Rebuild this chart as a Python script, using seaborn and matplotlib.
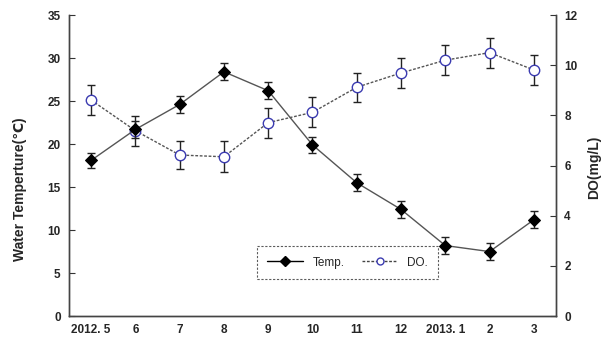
import matplotlib
matplotlib.use("Agg")
import matplotlib.pyplot as plt
from matplotlib.lines import Line2D
import numpy as np
import pandas as pd
import seaborn as sns

MONTHS = ["2012. 5", "6", "7", "8", "9", "10", "11", "12", "2013. 1", "2", "3"]
TEMP = [18.1, 21.7, 24.6, 28.4, 26.2, 19.9, 15.5, 12.4, 8.2, 7.5, 11.2]
TEMP_ERR = [0.9, 1.0, 1.0, 1.0, 1.0, 0.9, 1.0, 1.0, 0.95, 1.0, 1.0]
DO = [8.61, 7.39, 6.42, 6.35, 7.71, 8.12, 9.12, 9.69, 10.2, 10.5, 9.81]
DO_ERR = [0.6, 0.6, 0.57, 0.62, 0.6, 0.6, 0.58, 0.6, 0.6, 0.6, 0.6]

df = pd.DataFrame({"pos": np.arange(len(MONTHS)), "temp": TEMP, "temp_err": TEMP_ERR,
                   "do": DO, "do_err": DO_ERR})

sns.set_theme(style="white")
plt.rcParams["font.family"] = ["Liberation Sans", "DejaVu Sans"]
plt.rcParams["font.weight"] = "bold"

fig = plt.figure(figsize=(6.05, 3.41), dpi=100)
ax = fig.add_axes([0.114, 0.073, 0.805, 0.883])
ax2 = ax.twinx()

# DO series (right axis)
ax2.errorbar(df["pos"], df["do"], yerr=df["do_err"], fmt="none", ecolor="#222222",
             elinewidth=1.0, capsize=3, capthick=1.0, zorder=2)
sns.lineplot(data=df, x="pos", y="do", ax=ax2, color="#555555", linestyle=(0, (2, 1.2)),
             linewidth=1.0, marker="o", markersize=7.5, markerfacecolor="white",
             markeredgecolor="#3b3bb0", markeredgewidth=1.0, zorder=3)

# temperature series (left axis)
ax.errorbar(df["pos"], df["temp"], yerr=df["temp_err"], fmt="none", ecolor="#222222",
            elinewidth=1.0, capsize=3, capthick=1.0, zorder=2)
sns.lineplot(data=df, x="pos", y="temp", ax=ax, color="#555555", linewidth=1.0,
             marker="D", markersize=6.5, markerfacecolor="black", markeredgecolor="black",
             zorder=3)
ax.set_zorder(ax2.get_zorder() + 1)
ax.patch.set_visible(False)

ax.set_xlim(-0.5, len(MONTHS) - 0.5)
ax.set_ylim(0, 35)
ax2.set_ylim(0, 12)
ax.set_yticks(range(0, 36, 5))
ax2.set_yticks(range(0, 13, 2))

ax.set_xticks(df["pos"])
ax.set_xticklabels(MONTHS)
ax.set_xticks(np.arange(0.5, len(MONTHS) - 0.5, 1), minor=True)
ax.tick_params(axis="x", which="major", length=0, pad=6, labelsize=8.5)
ax.tick_params(axis="x", which="minor", direction="in", length=4, width=0.8, color="#333333")
ax.tick_params(axis="y", direction="in", length=4, width=0.8, color="#333333",
               labelsize=8.5, pad=6, left=True)
ax2.tick_params(axis="y", direction="in", length=4, width=0.8, color="#333333",
                labelsize=8.5, pad=6, right=True)

ax.set_xlabel(None)
ax.set_ylabel("Water Temperture(℃)", fontsize=10, fontweight="bold")
ax2.set_ylabel("DO(mg/L)", fontsize=10, fontweight="bold")
ax.yaxis.set_label_coords(-0.087, 0.422)
ax2.yaxis.set_label_coords(1.064, 0.495)

for a in (ax, ax2):
    a.spines["top"].set_visible(False)
    for s in ("left", "right", "bottom"):
        a.spines[s].set_color("#444444")
        a.spines[s].set_linewidth(1.0)

handles = [
    Line2D([], [], color="black", linewidth=1.0, marker="D", markersize=5,
           markerfacecolor="black"),
    Line2D([], [], color="#444444", linewidth=1.0, linestyle=(0, (2, 1.2)), marker="o",
           markersize=5, markerfacecolor="white", markeredgecolor="#3b3bb0"),
]
leg = ax.legend(handles, ["Temp.", "DO."], ncol=2, loc="center",
                bbox_to_anchor=(0.572, 0.178), frameon=True, fancybox=False,
                handlelength=3.0, columnspacing=1.5, borderpad=0.9,
                prop={"size": 8.5, "weight": "normal"}, borderaxespad=0)
leg.get_frame().set_linestyle((0, (2, 1.5)))
leg.get_frame().set_edgecolor("#333333")
leg.get_frame().set_linewidth(0.8)

fig.savefig("out.png", dpi=100)
